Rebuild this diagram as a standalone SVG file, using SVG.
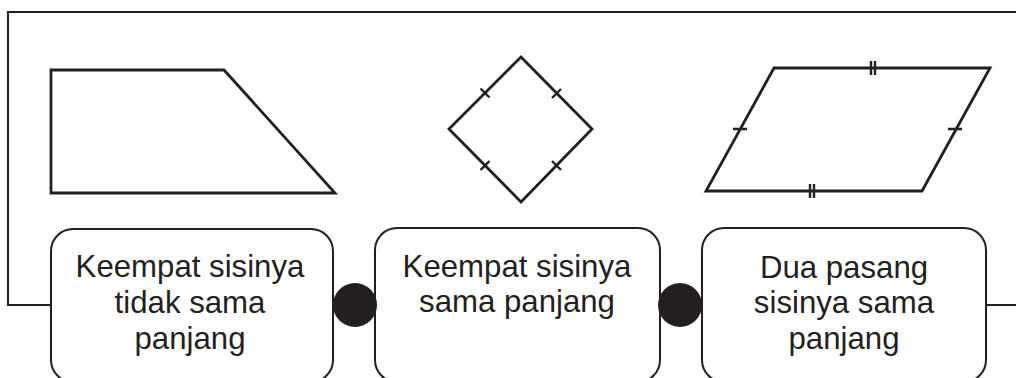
<svg xmlns="http://www.w3.org/2000/svg" width="1016" height="378" viewBox="0 0 1016 378">
<style>
.ln{fill:none;stroke:#231f20;stroke-width:2}
.sh{fill:none;stroke:#231f20;stroke-width:2.8;stroke-linejoin:miter}
.tk{stroke:#231f20;stroke-width:2.4}
.box{fill:#fff;stroke:#231f20;stroke-width:2}
.dot{fill:#231f20}
text{font-family:"Liberation Sans",Arial,sans-serif;font-size:31.2px;fill:#231f20;text-anchor:middle}
</style>
<rect width="1016" height="378" fill="#fff"/>
<g id="connectors">
<path class="ln" d="M51,305 H8 V12 H1016"/>
<path class="ln" d="M986,305 H1016"/>
</g>
<g id="trapezoid">
<path class="sh" d="M51,70 H224 L335,193 H51 Z"/>
</g>
<g id="square">
<path class="sh" d="M521,57 L592,129 L521,202 L449,129 Z"/>
<path class="tk" d="M480.5,88.5 L489.5,97.5 M552,98 L561,89 M480.5,170 L489.5,161 M552,161 L561,170"/>
</g>
<g id="parallelogram">
<path class="sh" d="M774,68 H990 L922,191 H706 Z"/>
<path class="tk" d="M871,61 v14 M875,61 v14 M810,184 v14 M814,184 v14 M733,129 h14 M948,129 h14"/>
</g>
<g id="node1">
<rect class="box" x="51" y="229" width="282" height="153" rx="22"/>
<text x="190" y="277">Keempat sisinya</text>
<text x="190" y="313">tidak sama</text>
<text x="190" y="349">panjang</text>
</g>
<g id="node2">
<rect class="box" x="375" y="228" width="285" height="154" rx="22"/>
<text x="517" y="277">Keempat sisinya</text>
<text x="517" y="312">sama panjang</text>
</g>
<g id="node3">
<rect class="box" x="702" y="228" width="284" height="154" rx="22"/>
<text x="844" y="278">Dua pasang</text>
<text x="844" y="313">sisinya sama</text>
<text x="844" y="349">panjang</text>
</g>
<g id="dots">
<circle class="dot" cx="355" cy="305" r="22"/>
<circle class="dot" cx="680" cy="305" r="22"/>
</g>
</svg>
